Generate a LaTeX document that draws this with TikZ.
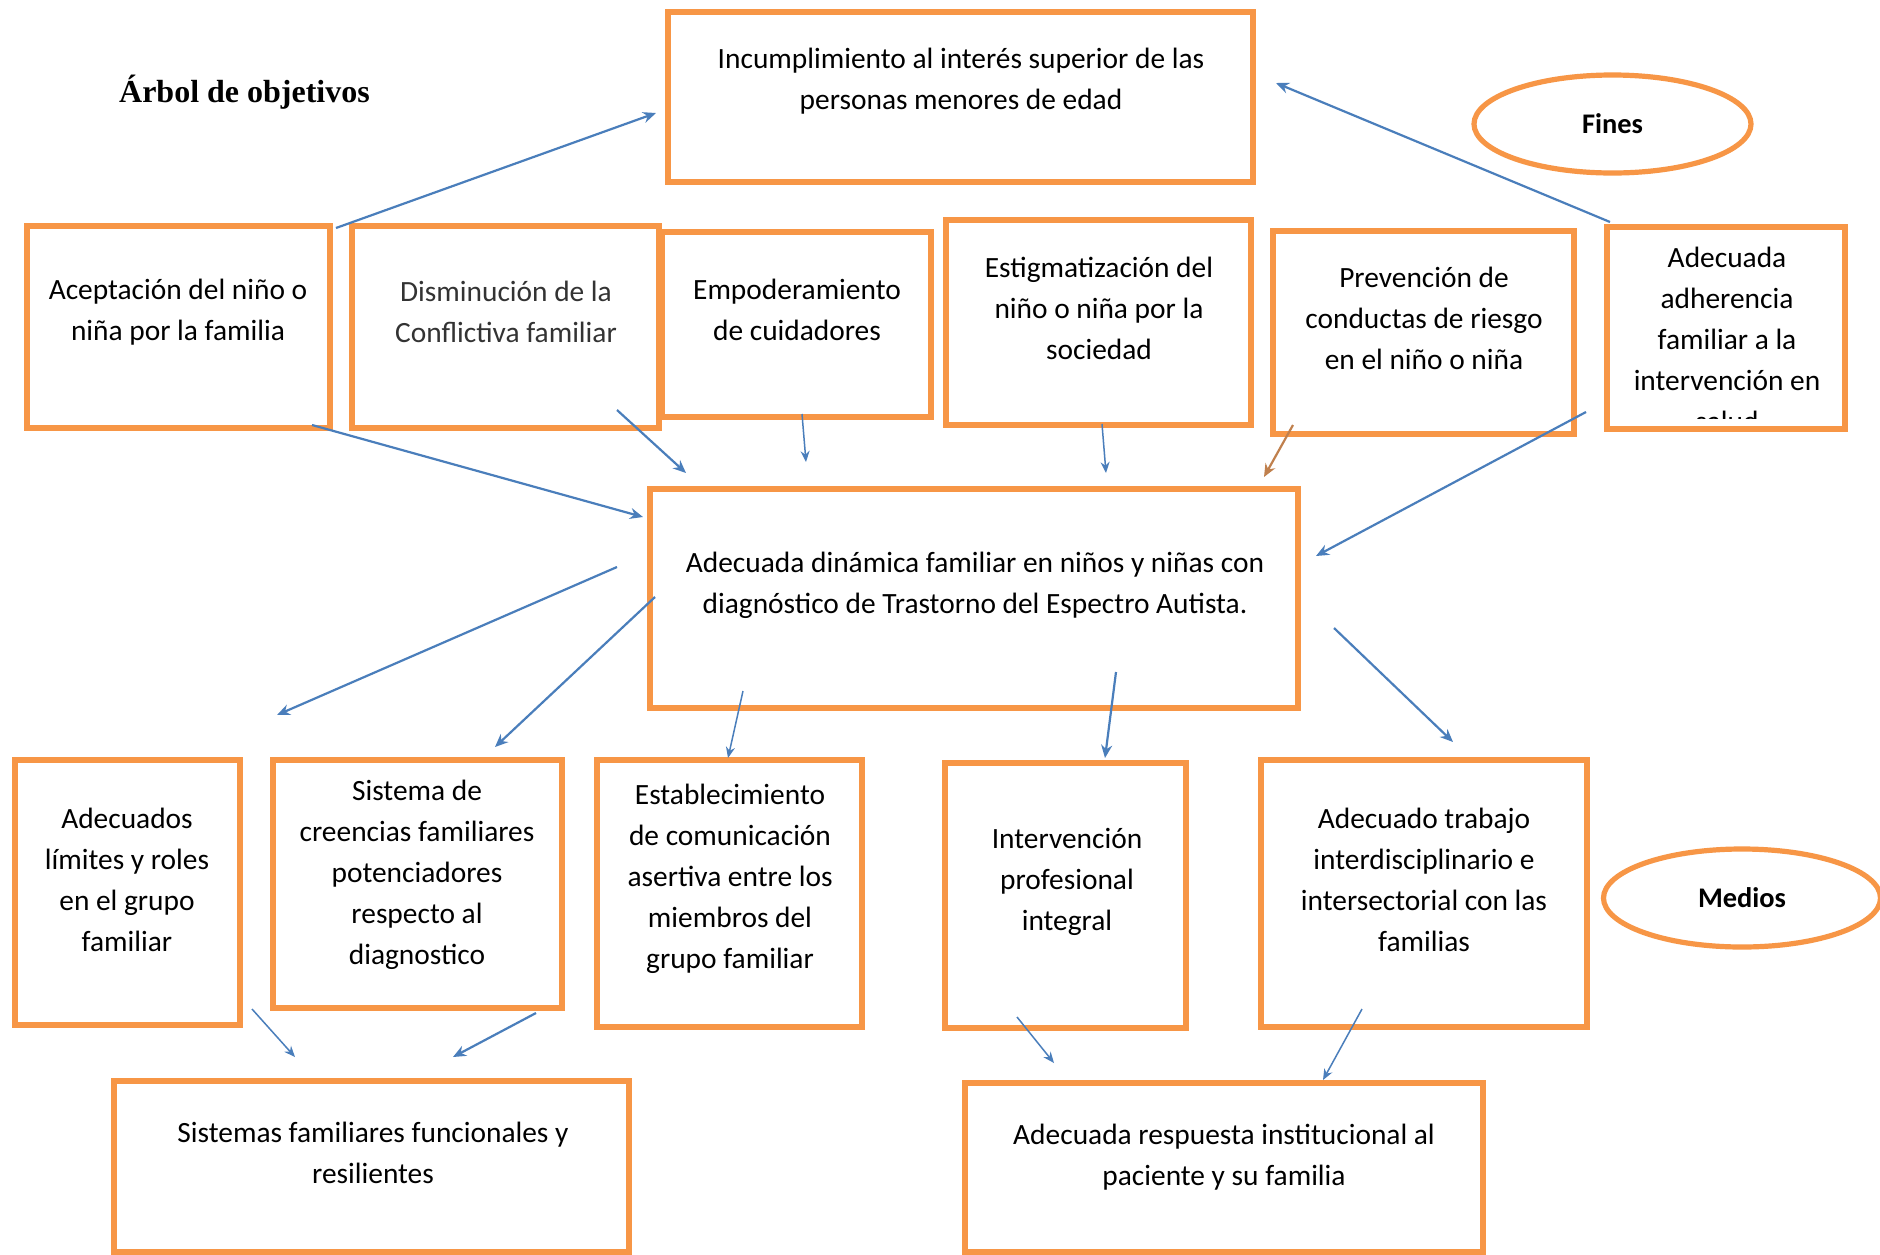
\documentclass[tikz,border=0pt]{standalone}
\usepackage{fontspec}
\setmainfont{Carlito}
\newfontfamily\titlefont{Liberation Serif}
\usetikzlibrary{arrows.meta,shapes.geometric}
\definecolor{boxorange}{HTML}{F79646}
\definecolor{arrowblue}{HTML}{4A7EBB}
\definecolor{arrowbrown}{HTML}{C0804D}
\begin{document}
\begin{tikzpicture}[x=0.5pt,y=-0.5pt,
  box/.style={draw=boxorange, line width=2.8pt, inner sep=0pt},
  txt/.style={align=center, inner sep=0pt, font=\fontsize{14.7}{20.5}\selectfont},
  oval/.style={ellipse, draw=boxorange, line width=2.6pt, inner sep=0pt, minimum width=138.5pt, minimum height=49pt, font=\fontsize{14.2}{16}\selectfont\bfseries},
  arr/.style={draw=arrowblue, line width=1.1pt, -{Stealth[length=6.5pt,width=5.5pt]}},
  thinarr/.style={draw=arrowblue, line width=0.75pt, -{Stealth[length=5.5pt,width=4.5pt]}}
]
\fill[white] (0,0) rectangle (1880,1254);
\useasboundingbox (0,0) rectangle (1880,1254);

% title
\node[font=\titlefont\bfseries\fontsize{16}{18}\selectfont, inner sep=0pt] (title) at (244.5,92) {Árbol de objetivos};

% boxes
\node[box, minimum width=292.5pt, minimum height=85pt] (b1) at (960.5,97) {};
\node[txt] (t1) at (961,81) {Incumplimiento al interés superior de las\\personas menores de edad};

\node[oval] (fines) at (1612.5,124) {Fines};

\node[box, minimum width=151.5pt, minimum height=101pt] (b2) at (178.5,327) {};
\node[txt] (t2) at (178,312) {Aceptación del niño o\\niña por la familia};

\node[box, minimum width=153.5pt, minimum height=101pt] (b3) at (505.5,327) {};
\node[txt, text=black!80] (t3) at (506,312) {Disminución de la\\Conflictiva familiar};

\node[box, minimum width=134.5pt, minimum height=92.5pt] (b4) at (796.5,324.5) {};
\node[txt] (t4) at (797,310) {Empoderamiento\\de cuidadores};

\node[box, minimum width=152.5pt, minimum height=102.5pt] (b5) at (1098.5,322.5) {};
\node[txt] (t5) at (1099,308) {Estigmatización del\\niño o niña por la\\sociedad};

\node[box, minimum width=150.5pt, minimum height=101.5pt] (b6) at (1423.5,332.5) {};
\node[txt] (t6) at (1424,318) {Prevención de\\conductas de riesgo\\en el niño o niña};

\begin{scope}
\clip (1600,200) rectangle (1860,418);
\node[txt] (t7) at (1727,339.5) {Adecuada\\adherencia\\familiar a la\\intervención en\\salud};
\end{scope}
\node[box, minimum width=119pt, minimum height=101pt] (b7) at (1726,328) {};

\node[box, minimum width=324pt, minimum height=109.5pt] (b8) at (974,598.5) {};
\node[txt] (t8) at (975,585) {Adecuada dinámica familiar en niños y niñas con\\diagnóstico de Trastorno del Espectro Autista.};

\node[box, minimum width=112.5pt, minimum height=132.5pt] (b9) at (127.5,892.5) {};
\node[txt] (t9) at (127,880) {Adecuados\\límites y roles\\en el grupo\\familiar};

\node[box, minimum width=144.5pt, minimum height=124pt] (b10) at (417.5,884) {};
\node[txt] (t10) at (417,875) {Sistema de\\creencias familiares\\potenciadores\\respecto al\\diagnostico};

\node[box, minimum width=132.5pt, minimum height=133.5pt] (b11) at (729.5,893.5) {};
\node[txt] (t11) at (730,879) {Establecimiento\\de comunicación\\asertiva entre los\\miembros del\\grupo familiar};

\node[box, minimum width=120.5pt, minimum height=132.5pt] (b12) at (1065.5,895.5) {};
\node[txt] (t12) at (1067,882) {Intervención\\profesional\\integral};

\node[box, minimum width=163pt, minimum height=133.5pt] (b13) at (1424,893.5) {};
\node[txt] (t13) at (1424,880) {Adecuado trabajo\\interdisciplinario e\\intersectorial con las\\familias};

\node[oval] (medios) at (1742,898) {Medios};

\node[box, minimum width=257.5pt, minimum height=85.5pt] (b14) at (371.5,1166.5) {};
\node[txt] (t14) at (373,1153) {Sistemas familiares funcionales y\\resilientes};

\node[box, minimum width=259pt, minimum height=84.5pt] (b15) at (1224,1167.5) {};
\node[txt] (t15) at (1224,1157) {Adecuada respuesta institucional al\\paciente y su familia};

% arrow end points
\coordinate (a1) at (336,228);   \coordinate (a2) at (656,113);
\coordinate (b1s) at (1610,222); \coordinate (b1e) at (1276,83);
\coordinate (c1) at (312,425);   \coordinate (c2) at (643,517);
\coordinate (d1) at (617,410);   \coordinate (d2) at (686,473);
\coordinate (e1) at (802,414);   \coordinate (e2) at (806,462);
\coordinate (f1) at (1102,424);  \coordinate (f2) at (1106,473);
\coordinate (g1) at (1293,425);  \coordinate (g2) at (1264,477);
\coordinate (h1) at (1586,412);  \coordinate (h2) at (1316,556);
\coordinate (i1) at (617,567);   \coordinate (i2) at (277,715);
\coordinate (j1) at (655,597);   \coordinate (j2) at (495,747);
\coordinate (k1) at (743,691);   \coordinate (k2) at (728,758);
\coordinate (l1) at (1116,672);  \coordinate (l2) at (1105,758);
\coordinate (m1) at (1334,628);  \coordinate (m2) at (1453,742);
\coordinate (n1) at (252,1009);  \coordinate (n2) at (295,1057);
\coordinate (o1) at (536,1013);  \coordinate (o2) at (453,1057);
\coordinate (p1) at (1017,1017); \coordinate (p2) at (1054,1063);
\coordinate (q1) at (1362,1009); \coordinate (q2) at (1323,1080);

\draw[arr] (a1) -- (a2);
\draw[arr] (b1s) -- (b1e);
\draw[arr] (c1) -- (c2);
\draw[arr] (d1) -- (d2);
\draw[thinarr] (e1) -- (e2);
\draw[thinarr] (f1) -- (f2);
\draw[arr, draw=arrowbrown] (g1) -- (g2);
\draw[arr] (h1) -- (h2);
\draw[arr] (i1) -- (i2);
\draw[arr] (j1) -- (j2);
\draw[thinarr] (k1) -- (k2);
\draw[arr] (l1) -- (l2);
\draw[arr] (m1) -- (m2);
\draw[thinarr] (n1) -- (n2);
\draw[arr] (o1) -- (o2);
\draw[thinarr] (p1) -- (p2);
\draw[thinarr] (q1) -- (q2);
\end{tikzpicture}
\end{document}
